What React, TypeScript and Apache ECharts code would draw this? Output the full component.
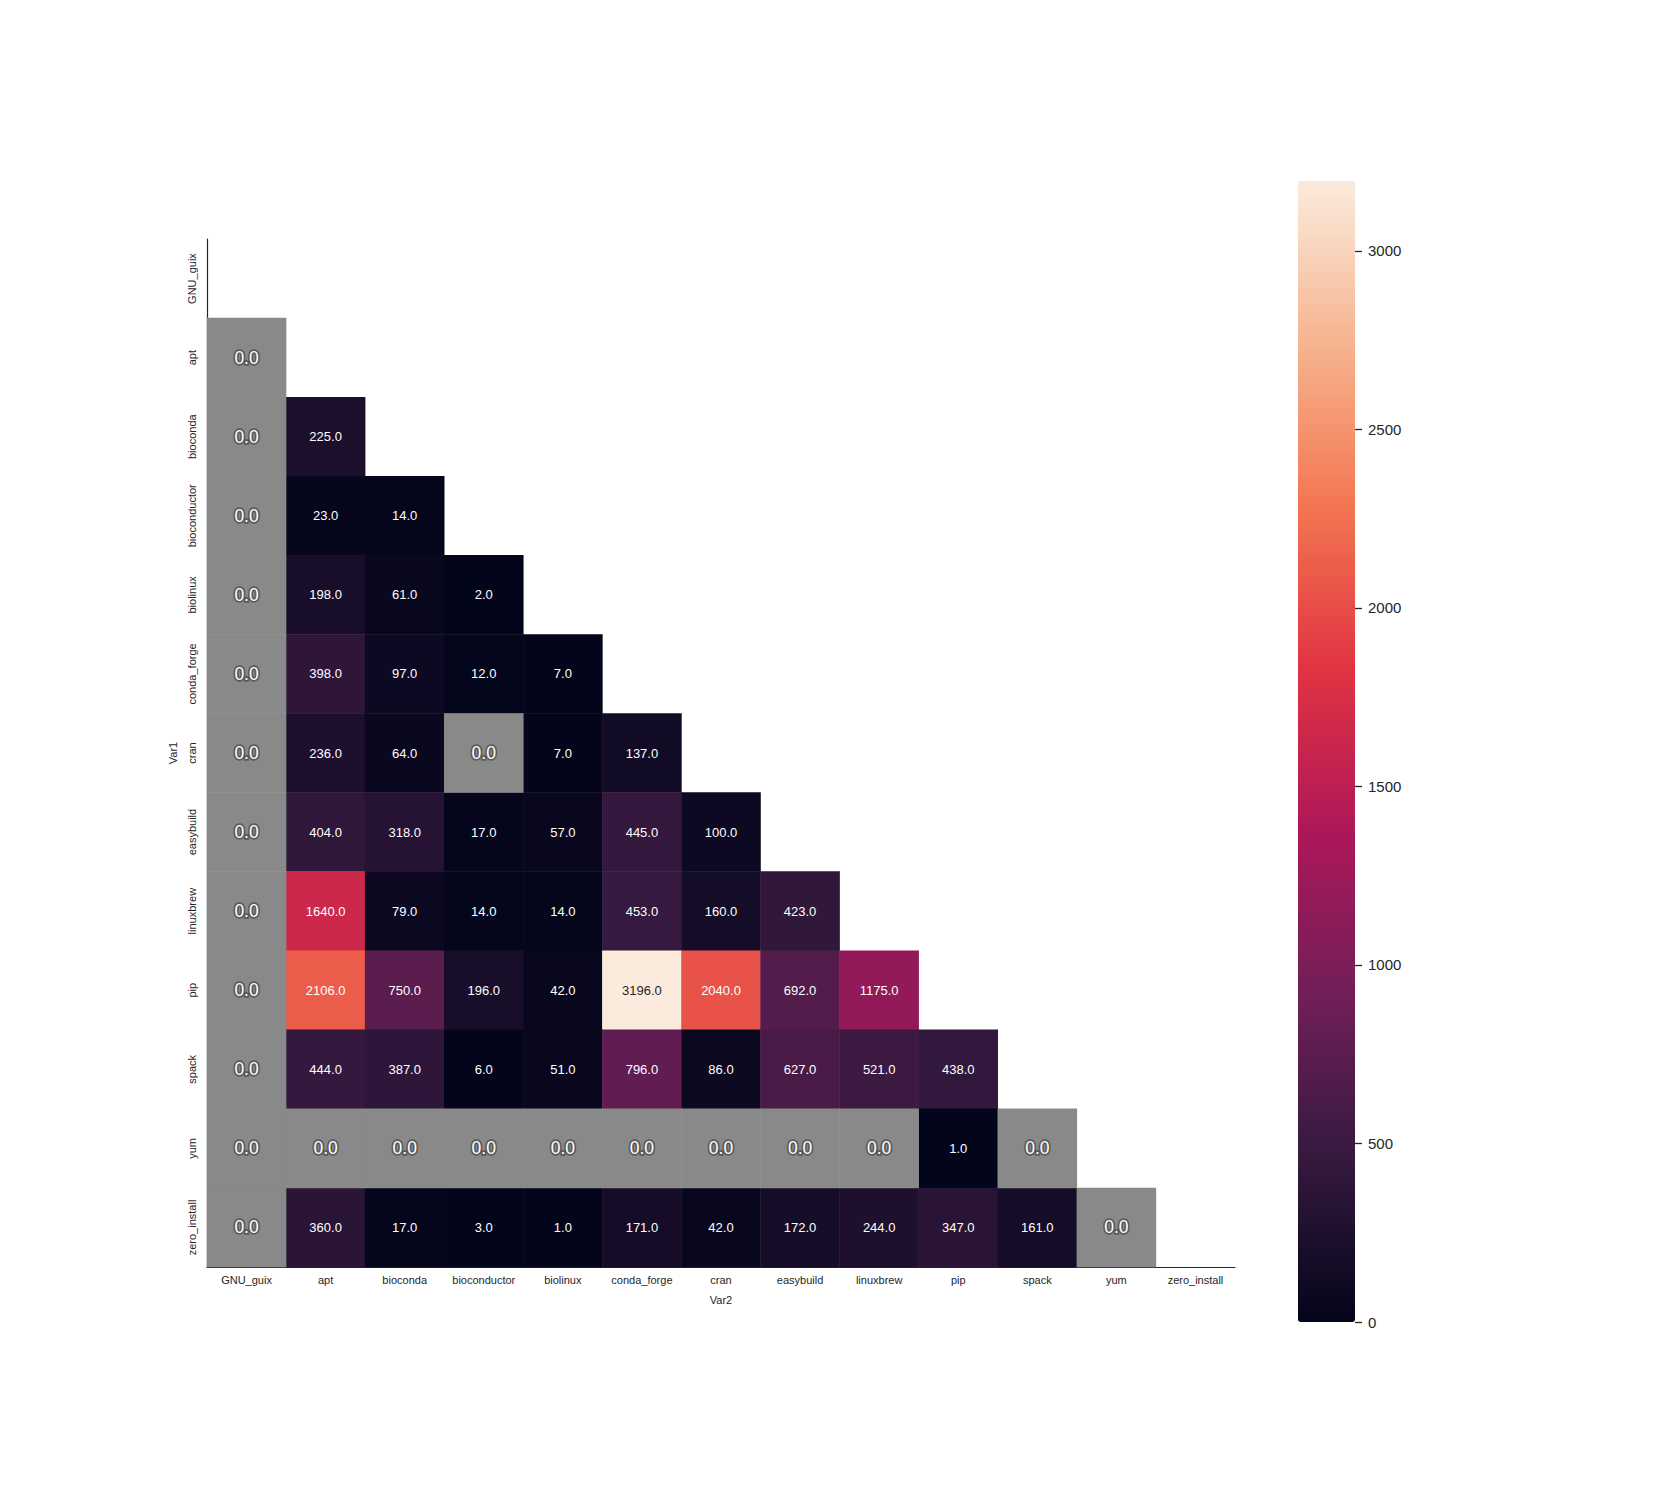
import React, { useEffect, useRef } from "react";
import * as echarts from "echarts";

const categories = [
  "GNU_guix", "apt", "bioconda", "bioconductor", "biolinux", "conda_forge",
  "cran", "easybuild", "linuxbrew", "pip", "spack", "yum", "zero_install",
];

// lower-triangle values, row i = Var1 category i, columns 0..i-1 = Var2
const row_GNU_guix: number[] = [];
const row_apt = [0];
const row_bioconda = [0, 225];
const row_bioconductor = [0, 23, 14];
const row_biolinux = [0, 198, 61, 2];
const row_conda_forge = [0, 398, 97, 12, 7];
const row_cran = [0, 236, 64, 0, 7, 137];
const row_easybuild = [0, 404, 318, 17, 57, 445, 100];
const row_linuxbrew = [0, 1640, 79, 14, 14, 453, 160, 423];
const row_pip = [0, 2106, 750, 196, 42, 3196, 2040, 692, 1175];
const row_spack = [0, 444, 387, 6, 51, 796, 86, 627, 521, 438];
const row_yum = [0, 0, 0, 0, 0, 0, 0, 0, 0, 1, 0];
const row_zero_install = [0, 360, 17, 3, 1, 171, 42, 172, 244, 347, 161, 0];

const rows = [
  row_GNU_guix, row_apt, row_bioconda, row_bioconductor, row_biolinux,
  row_conda_forge, row_cran, row_easybuild, row_linuxbrew, row_pip,
  row_spack, row_yum, row_zero_install,
];

const colorbarTicks = [0, 500, 1000, 1500, 2000, 2500, 3000];
const vMin = 0;
const vMax = 3196;

const rocket = [
  "#03051a", "#35193e", "#701f57", "#ad1759",
  "#e13342", "#f37651", "#f6b48f", "#faebdd",
];

const FONT = "'Liberation Sans', Arial, sans-serif";

export default function App() {
  const ref = useRef<HTMLDivElement>(null);
  useEffect(() => {
    if (!ref.current) return;
    const chart = echarts.init(ref.current, undefined, { renderer: "svg" });

    const mainData: any[] = [];
    const zeroData: any[] = [];
    rows.forEach((r, i) => {
      r.forEach((v, j) => {
        if (v === 0) {
          zeroData.push([j, i, v]);
        } else {
          mainData.push({
            value: [j, i, v],
            label: { color: v / vMax > 0.8 ? "#262626" : "#ffffff" },
          });
        }
      });
    });

    chart.setOption({
      animation: false,
      textStyle: { fontFamily: FONT },
      grid: [
        { left: 207, top: 239, width: 1028, height: 1028 },
        { left: 1298, top: 181, width: 57, height: 1141 },
      ],
      xAxis: [
        {
          type: "category",
          data: categories,
          gridIndex: 0,
          name: "Var2",
          nameLocation: "middle",
          nameGap: 27,
          nameTextStyle: { fontSize: 11, color: "#262626", fontFamily: FONT },
          axisLine: { show: true, lineStyle: { color: "#262626", width: 1.2 } },
          axisTick: { show: false },
          axisLabel: { fontSize: 11, color: "#262626", margin: 7, interval: 0, fontFamily: FONT },
          splitLine: { show: false },
        },
        { type: "value", gridIndex: 1, show: false, min: 0, max: 1 },
      ],
      yAxis: [
        {
          type: "category",
          data: categories,
          inverse: true,
          gridIndex: 0,
          name: "Var1",
          nameLocation: "middle",
          nameRotate: 90,
          nameGap: 22,
          nameTextStyle: { fontSize: 11, color: "#262626", fontFamily: FONT },
          axisLine: { show: true, lineStyle: { color: "#262626", width: 1.2 } },
          axisTick: { show: false },
          axisLabel: { fontSize: 11, color: "#262626", rotate: 90, margin: 10, interval: 0, fontFamily: FONT },
          splitLine: { show: false },
        },
        {
          type: "value",
          gridIndex: 1,
          min: vMin,
          max: vMax,
          interval: 500,
          position: "right",
          z: 10,
          axisLine: { show: false, onZero: false },
          axisTick: {
            show: true,
            inside: false,
            length: 7,
            lineStyle: { color: "#262626", width: 1.3 },
            customValues: colorbarTicks,
          },
          axisLabel: {
            fontSize: 15,
            color: "#262626",
            margin: 13,
            customValues: colorbarTicks,
            formatter: (v: number) => String(v),
            fontFamily: FONT,
          },
          splitLine: { show: false },
        },
      ],
      visualMap: [
        {
          type: "continuous",
          min: vMin,
          max: vMax,
          seriesIndex: 0,
          calculable: false,
          hoverLink: false,
          orient: "vertical",
          left: 1298,
          top: 181,
          padding: 0,
          itemWidth: 57,
          itemHeight: 1141,
          indicatorSize: 0,
          inRange: { color: rocket },
          textStyle: { color: "transparent", fontSize: 0 },
          text: ["", ""],
        },
        {
          type: "continuous",
          show: false,
          min: -1,
          max: 1,
          seriesIndex: 1,
          inRange: { color: ["#898989", "#898989"] },
        },
      ],
      series: [
        {
          type: "heatmap",
          xAxisIndex: 0,
          yAxisIndex: 0,
          data: mainData,
          label: {
            show: true,
            fontSize: 13,
            fontFamily: FONT,
            formatter: (p: any) => Number(p.value[2]).toFixed(1),
          },
          emphasis: { disabled: true },
        },
        {
          type: "heatmap",
          xAxisIndex: 0,
          yAxisIndex: 0,
          data: zeroData,
          label: {
            show: true,
            fontSize: 17.5,
            fontFamily: FONT,
            color: "#ffffff",
            textBorderColor: "rgba(85,85,85,0.9)",
            textBorderWidth: 3.5,
            formatter: (p: any) => Number(p.value[2]).toFixed(1),
          },
          emphasis: { disabled: true },
        },
      ],
    });
    return () => chart.dispose();
  }, []);
  return (
    <div
      ref={ref}
      style={{ position: "absolute", left: 0, top: 0, width: 1656, height: 1512 }}
    />
  );
}
